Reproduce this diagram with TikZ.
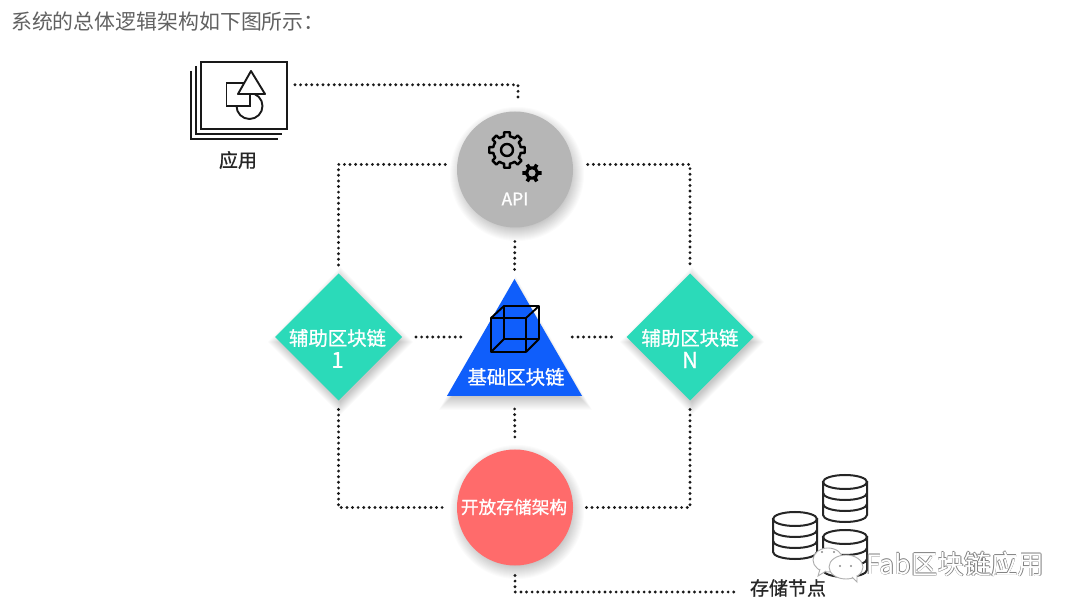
\documentclass[tikz,border=0pt]{standalone}
\usepackage{fontspec}
\setmainfont{Noto Sans CJK SC}
\newfontfamily\labelfont[FakeBold=0.9]{Noto Sans CJK SC}
\usetikzlibrary{shapes.geometric,calc}
\definecolor{auxc}{HTML}{2BDAB9}
\definecolor{basec}{HTML}{0F5EFB}
\definecolor{storec}{HTML}{FF6B6B}
\definecolor{apic}{HTML}{B6B6B6}
\tikzset{
  dotline/.style={line width=3.2pt,line cap=round,dash pattern=on 0pt off 5.6pt,black!90},
  roundbox/.style={circle,inner sep=0,outer sep=0,minimum size=116pt},
  auxbox/.style={diamond,aspect=1,inner sep=0,outer sep=0,minimum width=127pt,minimum height=127pt,fill=auxc},
  basebox/.style={regular polygon,regular polygon sides=3,inner sep=0,outer sep=0,minimum size=156pt,fill=basec},
  whitetxt/.style={text=white,inner sep=0},
  blacktxt/.style={text=black!85,inner sep=0},
  iconline/.style={draw=black!90,line width=1.9pt},
  layerline/.style={draw=black!90,line width=1.9pt},
  cubeline/.style={draw=black,line width=1.9pt,line join=round},
  gearline/.style={draw=black,line width=2.4pt,line join=round},
  diskline/.style={draw=black!85,line width=2pt},
  softshadow/.style={fill=black,opacity=0.014,draw=none},
  bubble/.style={draw=black!32,line width=.9pt,fill=white},
}
\newcommand{\diskstack}[2]{%
  \draw[diskline,fill=white] (#1-22,#2) -- (#1-22,#2+33) arc[start angle=180,end angle=0,x radius=22,y radius=7] -- (#1+22,#2) -- cycle;
  \draw[diskline,fill=white] (#1,#2) ellipse[x radius=22,y radius=7];
  \draw[diskline] (#1-22,#2+11) arc[start angle=180,end angle=0,x radius=22,y radius=7];
  \draw[diskline] (#1-22,#2+22) arc[start angle=180,end angle=0,x radius=22,y radius=7];
}
\begin{document}
\begin{tikzpicture}[x=1pt,y=-1pt]
\useasboundingbox[fill=white] (0,0) rectangle (1080,612);

% soft shadows
\foreach \r in {54,55,...,67}{
  \fill[softshadow] (517,174) circle[radius=\r];
  \fill[softshadow] (517,512) circle[radius=\r];
}
\foreach \e in {-4,-3,...,9}{
  \fill[softshadow] (340.5,{276-\e}) -- ({404+\e},342) -- (340.5,{406+\e}) -- ({277-\e},342) -- cycle;
  \fill[softshadow] (692,{276-\e}) -- ({755+\e},342) -- (692,{406+\e}) -- ({629-\e},342) -- cycle;
  \fill[softshadow] (515.5,{285-\e}) -- ({583+\e},{401+\e}) -- ({448-\e},{401+\e}) -- cycle;
}

% main nodes
\node (api) [roundbox,fill=apic] at (515,169.5) {};
\node (store) [roundbox,fill=storec] at (515,507.5) {};
\node (aux1) [auxbox] at (338.5,337) {};
\node (auxn) [auxbox] at (690,337) {};
\node (base) [basebox] at (514.5,357) {};

% title
\node (title) [inner sep=0,anchor=west,text=black!62,font=\fontsize{20.9}{21}\selectfont] at (11,22) {系统的总体逻辑架构如下图所示：};

% application icon
\node (app) [draw=black!90,line width=1.9pt,fill=white,minimum width=86pt,minimum height=67pt,inner sep=0,outer sep=0] at (244,95.5) {};
\draw[layerline] (196,66) -- (196,134) -- (282,134);
\draw[layerline] (191,71) -- (191,139) -- (278,139);
\draw[iconline,fill=white] (249.5,106) circle[radius=13];
\draw[iconline,fill=white] (226.5,83) rectangle (250,106);
\draw[iconline,fill=white,line join=round] (251,71) -- (265,94) -- (238,94) -- cycle;
\node (applabel) [blacktxt,font=\labelfont\fontsize{19}{19}\selectfont] at (238,160) {应用};

% connectors
\draw[dotline,shorten <=8pt,shorten >=10pt] (app.14) -| (api.87);
\draw[dotline,shorten <=12pt,shorten >=5pt] (api.175) -| (aux1.north);
\draw[dotline,shorten <=15pt,shorten >=5pt] (api.5) -| (auxn.north);
\draw[dotline,shorten <=14pt,shorten >=7pt] (api.south) -- (base.north);
\draw[dotline,shorten <=14pt,shorten >=50pt] (aux1.east) -- (aux1.east -| base.center);
\draw[dotline,shorten <=15pt,shorten >=55pt] (auxn.west) -- (auxn.west -| base.center);
\draw[dotline,shorten <=13pt,shorten >=11pt] (base.south) -- (store.north);
\draw[dotline,shorten <=9pt,shorten >=12pt] (aux1.south) |- (store.west);
\draw[dotline,shorten <=9pt,shorten >=12pt] (auxn.south) |- (store.east);
\coordinate (stend) at (739,592);
\draw[dotline,shorten <=10pt] (store.south) |- (stend);

% API gears
\begin{scope}[shift={(507,150)}]
\draw[gearline] \foreach \i in {0,45,...,315}{
  (\i-22.5:14) -- (\i-12:14) -- (\i-9:18) -- (\i+9:18) -- (\i+12:14) -- (\i+22.5:14)
};
\draw[gearline] (0,0) circle[radius=6];
\end{scope}
\begin{scope}[shift={(532,173)}]
\fill[black] \foreach \i in {0,60,...,300}{
  (\i-30:6.5) -- (\i-15:7) -- (\i-11:9.8) -- (\i+11:9.8) -- (\i+15:7) -- (\i+30:6.5) -- (0,0) -- cycle
};
\fill[apic] (0,0) circle[radius=3.6];
\end{scope}
\node (apilabel) [whitetxt,font=\labelfont\fontsize{17.5}{17.5}\selectfont] at (515,199) {API};

% base block cube
\draw[cubeline] (491,318) rectangle (526,352);
\draw[cubeline] (504,306) rectangle (539,339);
\draw[cubeline] (491,318) -- (504,306) (526,318) -- (539,306) (491,352) -- (504,339) (526,352) -- (539,339);
\node (baselabel) [whitetxt,font=\labelfont\fontsize{19.4}{19.4}\selectfont] at (516,377) {基础区块链};

% diamond labels
\node (aux1top) [whitetxt,font=\labelfont\fontsize{19.4}{19.4}\selectfont] at (337.5,338) {辅助区块链};
\node (aux1num) [whitetxt,font=\labelfont\fontsize{22}{22}\selectfont] at (337.5,360) {1};
\node (auxntop) [whitetxt,font=\labelfont\fontsize{19.4}{19.4}\selectfont] at (690,338) {辅助区块链};
\node (auxnnum) [whitetxt,font=\labelfont\fontsize{22}{22}\selectfont] at (690,360) {N};

% store label
\node (storelabel) [whitetxt,font=\labelfont\fontsize{17.7}{17.7}\selectfont] at (514,507) {开放存储架构};

% disks
\diskstack{845}{482}
\diskstack{795}{519}
\diskstack{845}{537}
\node (disklabel) [blacktxt,font=\labelfont\fontsize{19}{19}\selectfont] at (788,588) {存储节点};

% watermark
\draw[bubble] (828,560) ellipse[x radius=15,y radius=12];
\draw[bubble] (820,569) -- (818,576) -- (826,571);
\draw[bubble] (846,567) ellipse[x radius=17,y radius=12];
\draw[bubble] (852,577) -- (857,582) -- (857,575);
\fill[black!45] (840,566) circle[radius=1.2] (851,566) circle[radius=1.2] (822,552) circle[radius=1.2] (834,552) circle[radius=1.2];
\foreach \dx/\dy in {-0.6/0,0.6/0,0/-0.6,0/0.6}{
  \node[inner sep=0,anchor=west,text=black!50,font=\fontsize{26.6}{27}\selectfont] at (866+\dx,564+\dy) {Fab区块链应用};
}
\node (water) [inner sep=0,anchor=west,text=white,font=\fontsize{26.6}{27}\selectfont] at (866,564) {Fab区块链应用};
\end{tikzpicture}
\end{document}
